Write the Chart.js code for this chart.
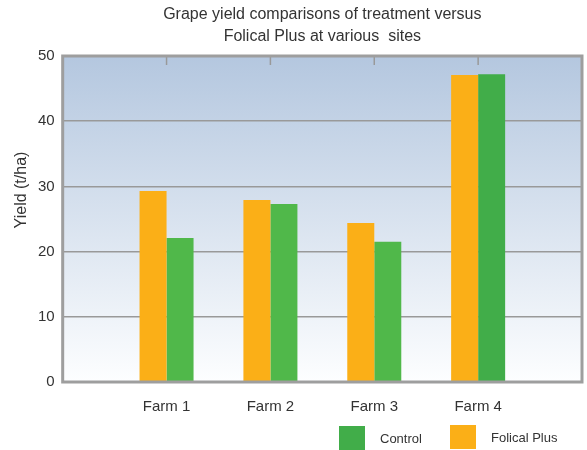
<!DOCTYPE html>
<html>
<head>
<meta charset="utf-8">
<script src="https://cdn.jsdelivr.net/npm/chart.js@4.4.1/dist/chart.umd.min.js"></script>
<style>
  html, body { margin: 0; padding: 0; background: #fff; }
  #wrap { width: 587px; height: 450px; }
</style>
</head>
<body>
<div id="wrap"><canvas id="myChart"></canvas></div>
<script>
    const farms = ['Farm 1', 'Farm 2', 'Farm 3', 'Farm 4']
    const folicalPlus = [29.3, 27.9, 24.4, 47.1]
    const control = [22.1, 27.3, 21.5, 47.2]
    const yTicks = [0, 10, 20, 30, 40, 50]

    // empty slot on each side, like the original
    const labels = ['', ...farms, '']
    const pad = arr => [null, ...arr, null]

    const FONT = "'Liberation Sans', Arial, sans-serif"
    Chart.defaults.font.family = FONT
    Chart.defaults.color = '#333'

    const greenDark = '#41ad49'
    const greenLight = '#50b84a'
    const orange = '#fbaf17'

    const decor = {
        id: 'decor',
        beforeDraw(chart) {
            const {ctx, chartArea: a} = chart
            const g = ctx.createLinearGradient(0, a.top, 0, a.bottom)
            g.addColorStop(0, '#b4c7df')
            g.addColorStop(1, '#fdfeff')
            ctx.save()
            ctx.fillStyle = g
            ctx.fillRect(a.left, a.top, a.right - a.left, a.bottom - a.top)
            ctx.restore()
        },
        beforeDatasetsDraw(chart) {
            // small ticks hanging from the top border
            const {ctx, chartArea: a, scales} = chart
            ctx.save()
            ctx.strokeStyle = '#999'
            ctx.lineWidth = 1.5
            farms.forEach(f => {
                const x = scales.x.getPixelForValue(labels.indexOf(f))
                ctx.beginPath()
                ctx.moveTo(x, a.top)
                ctx.lineTo(x, a.top + 9)
                ctx.stroke()
            })
            ctx.restore()
        },
        afterDatasetsDraw(chart) {
            const {ctx, chartArea: a} = chart
            ctx.save()
            ctx.strokeStyle = '#9e9e9e'
            ctx.lineWidth = 3
            ctx.strokeRect(a.left, a.top, a.right - a.left, a.bottom - a.top)
            ctx.restore()
        },
        afterDraw(chart) {
            const {ctx} = chart
            ctx.save()
            // y axis title
            ctx.fillStyle = '#333'
            ctx.font = '16px ' + FONT
            ctx.textAlign = 'center'
            ctx.textBaseline = 'middle'
            ctx.translate(22, 190)
            ctx.rotate(-Math.PI / 2)
            ctx.fillText('Yield (t/ha)', 0, 0)
            ctx.restore()

            // legend, Control first
            const items = [
                {text: chart.data.datasets[1].label, color: greenDark, x: 339, y: 426},
                {text: chart.data.datasets[0].label, color: orange, x: 450, y: 425}
            ]
            ctx.save()
            ctx.font = '13px ' + FONT
            ctx.textBaseline = 'middle'
            ctx.textAlign = 'left'
            items.forEach(it => {
                ctx.fillStyle = it.color
                ctx.fillRect(it.x, it.y, 26, 24)
                ctx.fillStyle = '#333'
                ctx.fillText(it.text, it.x + 41, it.y + 13)
            })
            ctx.restore()
        }
    }

    const ctx = document.getElementById('myChart').getContext('2d')
    const chart = new Chart(ctx, {
        type: 'bar',
        data: {
            labels: labels,
            datasets: [{
                label: 'Folical Plus',
                data: pad(folicalPlus),
                backgroundColor: orange
            }, {
                label: 'Control',
                data: pad(control),
                backgroundColor: c => (c.dataIndex !== undefined && c.dataIndex < 4) ? greenLight : greenDark
            }]
        },
        options: {
            responsive: true,
            maintainAspectRatio: false,
            animation: false,
            categoryPercentage: 0.52,
            barPercentage: 1,
            layout: { padding: { left: 30, right: 5, top: 0, bottom: 26 } },
            scales: {
                x: {
                    offset: false,
                    grid: { display: false },
                    border: { display: false },
                    ticks: { font: { size: 15 }, padding: 8, autoSkip: false, maxRotation: 0 },
                    afterFit: s => { s.paddingRight = 0 }
                },
                y: {
                    min: 0,
                    max: 50,
                    afterBuildTicks: s => { s.ticks = yTicks.map(v => ({value: v})) },
                    grid: { color: '#999', lineWidth: 1.5, drawTicks: false },
                    border: { display: false },
                    ticks: { font: { size: 15 }, padding: 8 }
                }
            },
            plugins: {
                title: {
                    display: true,
                    text: ['Grape yield comparisons of treatment versus', 'Folical Plus at various  sites'],
                    font: { size: 16, weight: 'normal', lineHeight: 1.375 },
                    color: '#333',
                    fullSize: false,
                    padding: { top: 4, bottom: 8 }
                },
                legend: { display: false },
                tooltip: { enabled: false }
            }
        },
        plugins: [decor]
    })
</script>
</body>
</html>
